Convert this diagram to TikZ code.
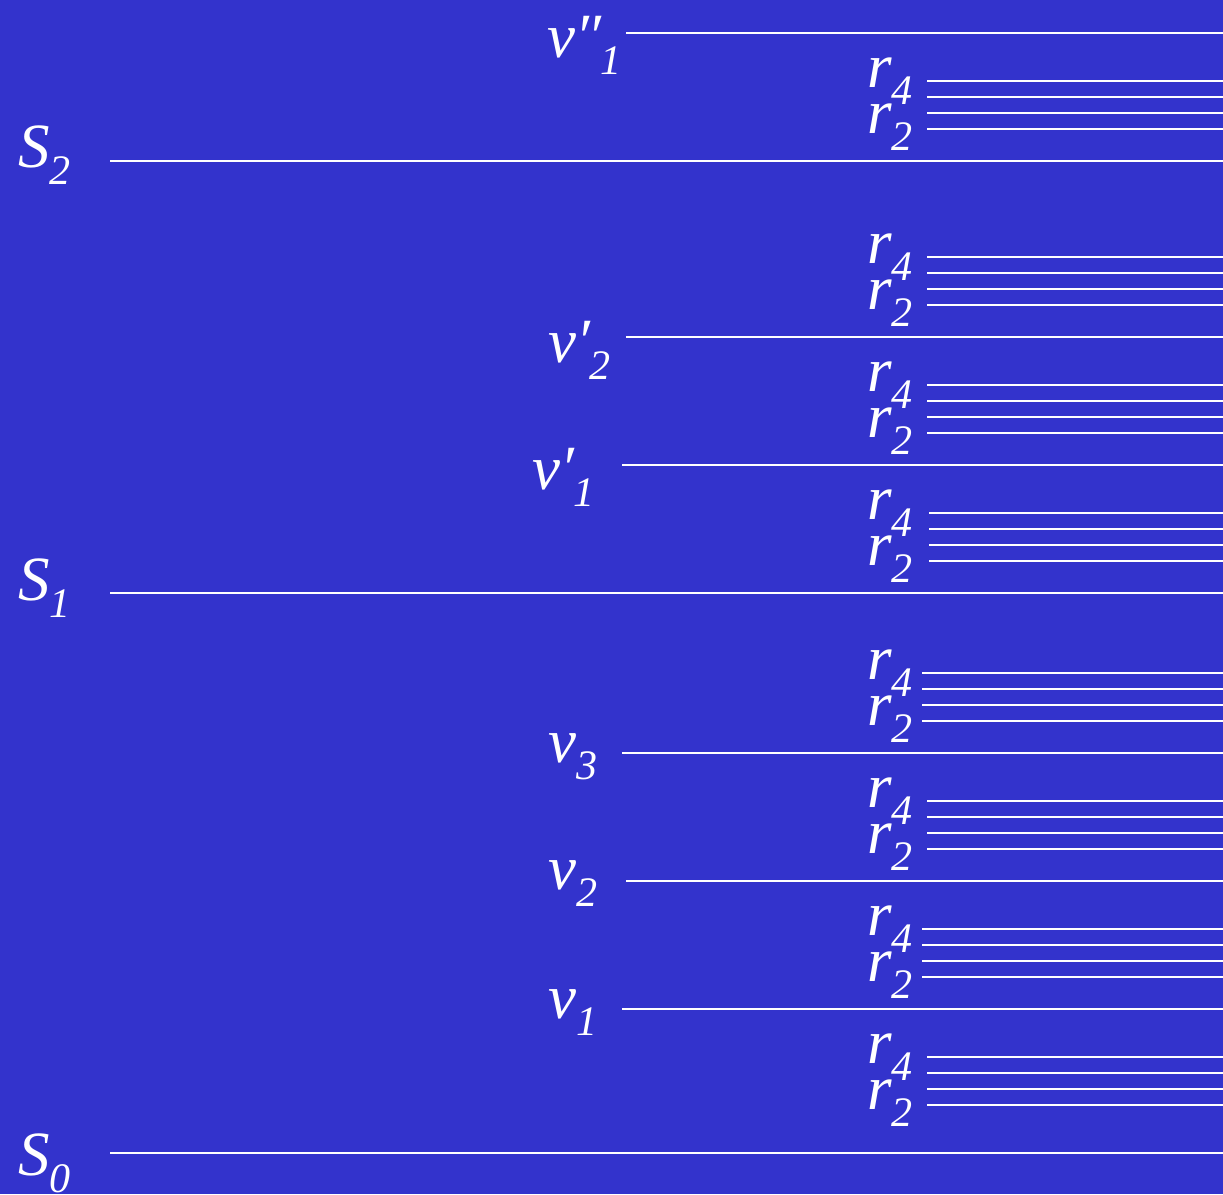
\documentclass[tikz,border=0pt]{standalone}
\usepackage{fontspec}
\setmainfont{Liberation Serif}
\definecolor{bg}{RGB}{51,51,204}
\newcommand{\mainsz}{\fontsize{63}{63}\selectfont\itshape}
\newcommand{\subsz}{\fontsize{42}{42}\selectfont\itshape}
\newcommand{\lbl}[3]{{\mainsz #1#2}\raisebox{-17pt}{\subsz #3}}
\newcommand{\pr}{\char"2032}
\newcommand{\dpr}{\char"2032\kern-2pt\char"2032}
\begin{document}
\begin{tikzpicture}[x=1pt,y=-1pt,
  lab/.style={anchor=base west,inner sep=0pt,text=white},
  ln/.style={white,line width=1.8pt}]
\fill[bg] (0,0) rectangle (1223,1194);
\useasboundingbox (0,0) rectangle (1223,1194);
% main levels
\foreach \y/\x in {33/626,161/110,337/626,465/622,593/110,753/622,881/626,1009/622,1153/110}
  \draw[ln] (\x,\y) -- (1223,\y);
% r groups
\foreach \L/\x in {81/927,257/927,385/927,513/929,673/922,801/927,929/922,1057/927} {
  \foreach \d in {0,16,32,48}
    \draw[ln] (\x,\L+\d) -- (1223,\L+\d);
  \node[lab] (rf\L) at (867,\L+6) {\lbl{r}{}{4}};
  \node[lab] (rt\L) at (867,\L+52) {\lbl{r}{}{2}};
}
% labels
\node[lab] (vpp1) at (547,57) {\lbl{v}{\dpr}{1}};
\node[lab] (s2) at (18,167) {\lbl{S}{}{2}};
\node[lab] (vp2) at (548,362) {\lbl{v}{\pr}{2}};
\node[lab] (vp1) at (532,489) {\lbl{v}{\pr}{1}};
\node[lab] (s1) at (18,600) {\lbl{S}{}{1}};
\node[lab] (v3) at (548,762) {\lbl{v}{}{3}};
\node[lab] (v2) at (548,889) {\lbl{v}{}{2}};
\node[lab] (v1) at (548,1018) {\lbl{v}{}{1}};
\node[lab] (s0) at (18,1175) {\lbl{S}{}{0}};
\end{tikzpicture}
\end{document}
